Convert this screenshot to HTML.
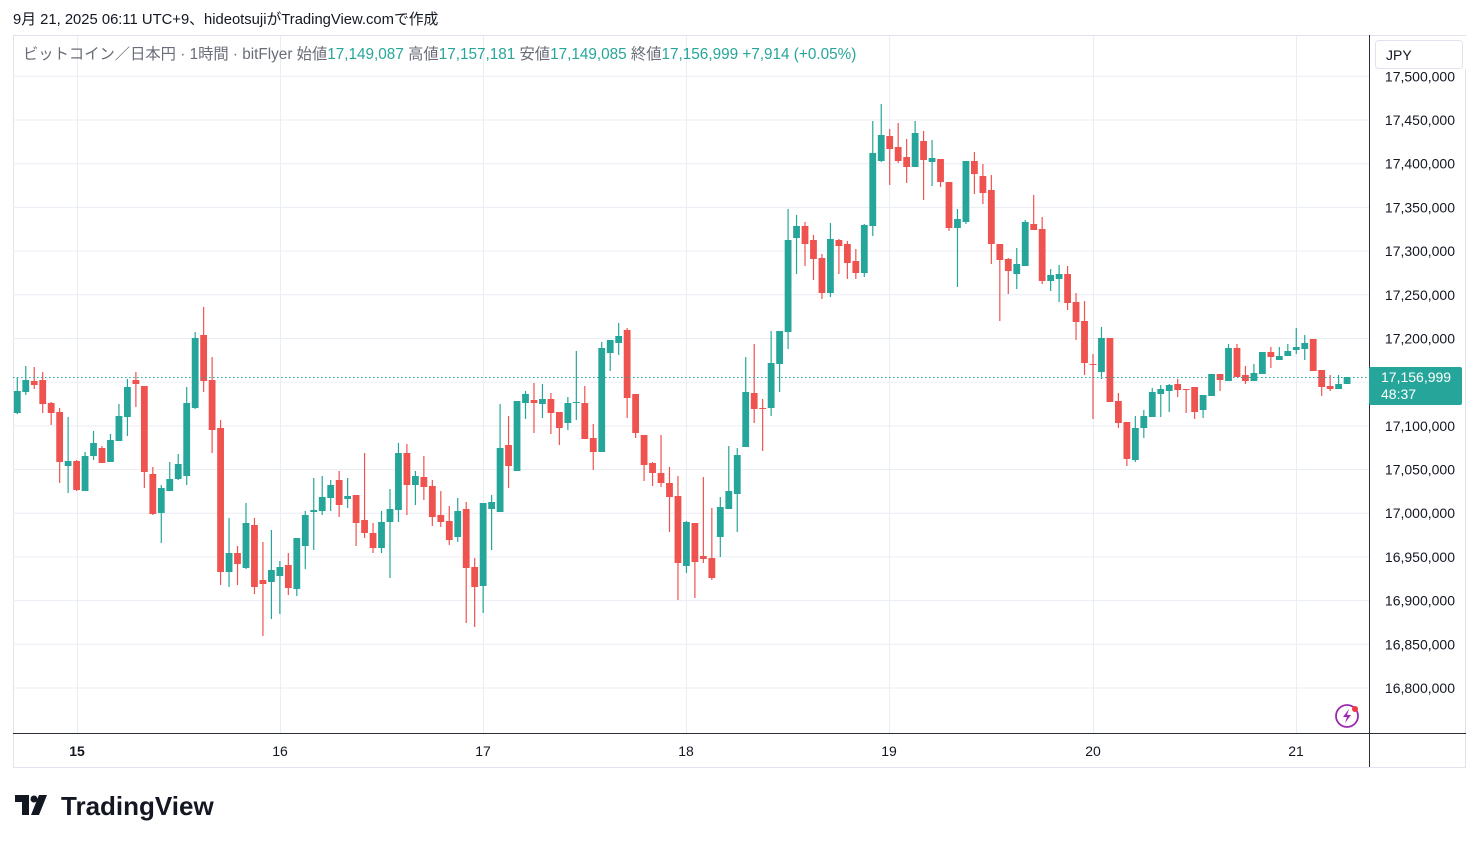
<!DOCTYPE html>
<html><head><meta charset="utf-8"><style>
body{margin:0;width:1479px;height:843px;background:#fff;overflow:hidden;font-family:"Liberation Sans","Noto Sans CJK JP",sans-serif;}
</style></head><body>
<svg id="s" width="1479" height="843" xmlns="http://www.w3.org/2000/svg" style="position:absolute;left:0;top:0">
<text x="13" y="24" font-size="14.8" fill="#131722" font-family="Liberation Sans, Noto Sans CJK JP, sans-serif">9月 21, 2025 06:11 UTC+9、hideotsujiがTradingView.comで作成</text>
<rect x="13.5" y="35.5" width="1452" height="732" fill="none" stroke="#e0e3eb"/>
<g id="grid"></g>
<g id="c"></g>
<line x1="13" y1="377.5" x2="1369" y2="377.5" stroke="#26a69a" stroke-dasharray="1.5,2.5"/>
<line x1="1369.5" y1="35" x2="1369.5" y2="767" stroke="#2a2e39"/>
<line x1="13" y1="733.5" x2="1466" y2="733.5" stroke="#2a2e39"/>
<text x="23" y="59" font-size="15.3" font-family="Liberation Sans, Noto Sans CJK JP, sans-serif"><tspan fill="#6a6d78">ビットコイン／日本円 · 1時間 · bitFlyer  始値</tspan><tspan fill="#26a69a">17,149,087</tspan><tspan fill="#6a6d78">  高値</tspan><tspan fill="#26a69a">17,157,181</tspan><tspan fill="#6a6d78">  安値</tspan><tspan fill="#26a69a">17,149,085</tspan><tspan fill="#6a6d78">  終値</tspan><tspan fill="#26a69a">17,156,999  +7,914 (+0.05%)</tspan></text>
<rect x="1370" y="36" width="96" height="33" fill="#fff"/>
<rect x="1375.5" y="40.5" width="87" height="28" rx="3" fill="#fff" stroke="#e0e3eb"/>
<text x="1386" y="60" font-size="14" fill="#131722">JPY</text>
<rect x="1369" y="367" width="93" height="38" rx="2" fill="#26a69a"/>
<text x="1381" y="382" font-size="14" fill="#fff">17,156,999</text>
<text x="1381" y="399" font-size="14" fill="#fff">48:37</text>
<circle cx="1347" cy="716" r="11" fill="#fff" stroke="#9c27b0" stroke-width="1.8"/>
<path d="M1349 709 L1343 717 L1347 717 L1345 723 L1351 715 L1347 715 Z" fill="#9c27b0"/>
<circle cx="1355" cy="709" r="3" fill="#f23645"/>
<g transform="translate(15,795)">
<path d="M0 0 H14 V20 H7 V7 H0 Z" fill="#131722"/>
<circle cx="19" cy="4" r="3.5" fill="#131722"/>
<path d="M24 0 H32 L24 20 H16 Z" fill="#131722"/>
<text x="46" y="20" font-size="26" font-weight="bold" fill="#131722">TradingView</text>
</g>
</svg>
<script>
var NS="http://www.w3.org/2000/svg";
function el(p,t,a){var e=document.createElementNS(NS,t);for(var k in a)e.setAttribute(k,a[k]);p.appendChild(e);return e;}
var g=document.getElementById('grid');
for(var k=-1;k<14;k++){var y=120+k*43.69;if(y<36)continue;
 el(g,'line',{x1:13,x2:1369,y1:y,y2:y,stroke:'#e9eef4'});
 var p=17450000-k*50000;var s=p.toString().replace(/\B(?=(\d{3})+(?!\d))/g,',');
 var t=el(g,'text',{x:1455,y:y+5,'font-size':14,fill:'#131722','text-anchor':'end'});t.textContent=s;}
var days=[[77,'15'],[280,'16'],[483,'17'],[686,'18'],[889,'19'],[1093,'20'],[1296,'21']];
days.forEach(function(d){el(g,'line',{x1:d[0]+.5,x2:d[0]+.5,y1:36,y2:733,stroke:'#e9eef4'});
 var t=el(g,'text',{x:d[0],y:756,'font-size':14,fill:'#131722','text-anchor':'middle','font-weight':d[1]=='15'?'bold':'normal'});t.textContent=d[1];});
var D="G391-413,377-414;G380-392,366-395;R381-385,367-389;R380-404,372-413;R403-413,402-425;R412-462,408-483;G461-466,417-493;R461-490,460-491;G456-491,452-491;G443-456,431-460;R448-463,446-463;G440-462,434-462;G416-441,404-441;G387-417,379-436;R380-384,372-407;R386-472,386-488;R474-514,467-515;G488-513,485-543;G479-491,462-491;G464-479,454-480;G403-476,387-485;G338-408,332-409;R335-381,307-392;R380-430,357-453;R428-572,420-585;G553-572,518-587;R553-564,546-585;G523-568,503-569;R525-587,518-594;R580-584,542-636;G570-582,530-619;G567-576,561-614;R565-588,553-595;G538-589,538-596;G515-546,511-569;G510-512,478-550;G497-511,476-515;G485-498,480-511;R480-505,471-517;G496-499,478-508;R495-523,495-546;R520-533,453-538;R533-548,523-553;G522-548,511-553;G509-522,489-578;G453-510,443-522;R453-485,444-515;G476-485,471-505;R477-487,456-500;R486-517,480-526;R515-522,491-527;R521-540,506-545;G511-537,498-542;R509-568,502-623;R567-587,558-627;G503-586,503-613;G502-509,495-550;G448-512,404-512;R445-466,416-488;G401-471,401-471;G394-403,391-419;R400-403,383-433;G399-404,384-418;R399-413,393-434;R412-428,412-445;G403-423,397-430;G402-403,351-420;R403-439,386-439;R438-452,424-470;G348-452,342-452;G340-353,340-371;G336-343,323-355;R330-398,328-418;R394-433,394-438;R435-465,435-481;R463-473,462-486;R473-483,435-487;R483-497,467-532;R496-563,476-600;G522-566,521-573;R523-562,523-598;R556-559,477-563;R558-578,508-580;G507-537,497-557;G491-509,446-509;G455-494,448-532;G392-447,357-447;R393-409,344-423;R408-409,399-451;G363-408,331-416;G331-364,331-392;G240-332,209-349;G226-238,215-274;R226-244,222-266;R240-259,235-280;R258-293,254-299;G239-293,223-297;R240-246,239-274;R244-263,241-279;R261-273,249-279;G225-273,224-277;G153-226,121-236;G135-161,104-162;R136-149,129-185;R147-161,123-163;R157-167,139-183;G133-167,121-167;R141-160,131-200;G158-162,140-186;R159-182,159-187;R182-228,182-231;G219-228,209-287;G161-222,161-224;R161-174,152-194;R176-193,164-204;R190-244,175-264;R244-260,244-321;R259-271,258-294;G264-274,248-289;G222-266,220-266;R224-230,195-230;R229-281,217-284;G275-281,269-291;G274-279,265-302;R274-303,266-310;R302-322,293-340;R321-363,301-375;R364-365,354-419;G338-372,327-379;R338-402,338-402;R401-423,393-428;R422-459,422-466;G428-460,416-462;G416-428,410-438;G392-417,388-417;G389-394,385-417;G385-391,384-412;R384-390,379-397;R389-390,389-413;R387-412,387-419;G395-410,395-418;G374-396,374-396;R374-380,374-391;G348-381,344-381;R348-377,344-377;R375-381,366-384;G373-381,364-381;G352-374,352-374;R352-357,347-368;G356-360,347-360;G351-356,344-356;G347-350,328-354;G343-349,335-360;R339-371,339-371;R370-387,370-396;R386-389,375-391;G384-389,375-389;G377-384,377-384";
var c=document.getElementById('c');
D.split(';').forEach(function(s,i){var col=s[0]=='G'?'#26a69a':'#ef5350';var q=s.slice(1).split(',');var b=q[0].split('-').map(Number),w=q[1].split('-').map(Number);
 var x=17.3+i*8.47;
 el(c,'line',{x1:x,x2:x,y1:Math.min(w[0],b[0]),y2:Math.max(w[1],b[1]),stroke:col,'stroke-width':1.2});
 el(c,'rect',{x:x-3.4,y:b[0],width:6.8,height:Math.max(1,b[1]-b[0]),fill:col});});
</script>
</body></html>
